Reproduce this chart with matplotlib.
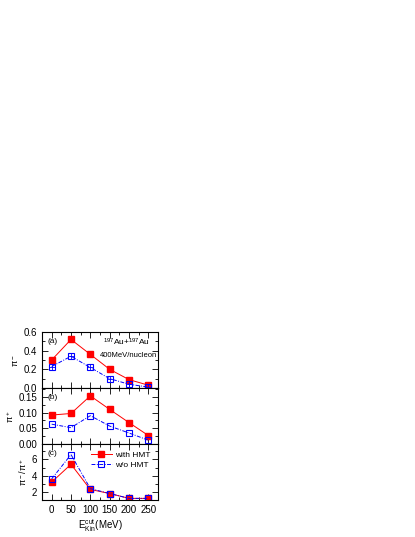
import matplotlib
matplotlib.use("Agg")
import matplotlib.pyplot as plt
from matplotlib.ticker import MultipleLocator, AutoMinorLocator

e_cut = [0, 50, 100, 150, 200, 250]

# pi- yields
pim_hmt = [0.30, 0.52, 0.36, 0.20, 0.09, 0.03]
pim_no = [0.23, 0.34, 0.22, 0.10, 0.04, 0.01]
# pi+ yields
pip_hmt = [0.092, 0.097, 0.153, 0.110, 0.068, 0.027]
pip_no = [0.063, 0.052, 0.090, 0.057, 0.035, 0.012]
# pi-/pi+ ratio
ratio_hmt = [3.2, 5.4, 2.3, 1.8, 1.2, 1.2]
ratio_no = [3.6, 6.6, 2.4, 1.8, 1.2, 1.2]

plt.rcParams["font.family"] = "Liberation Sans"
plt.rcParams["font.size"] = 7
plt.rcParams["mathtext.fontset"] = "custom"
plt.rcParams["mathtext.rm"] = "Liberation Sans"
plt.rcParams["mathtext.it"] = "Liberation Sans"

fig = plt.figure(figsize=(4.15, 5.37), dpi=100)
left, right = 42 / 415, 158 / 415
top, bottom = 1 - 332 / 537, 1 - 500 / 537
h = (top - bottom) / 3
axes = [fig.add_axes([left, top - (i + 1) * h, right - left, h]) for i in range(3)]

panels = [
    (pim_hmt, pim_no, (0, 0.6), 0.2, "$\\pi^-$", "(a)", "%.1f"),
    (pip_hmt, pip_no, (0, 0.178), 0.05, "$\\pi^+$", "(b)", "%.2f"),
    (ratio_hmt, ratio_no, (1, 7.9), 2, "$\\pi^-/\\pi^+$", "(c)", "%d"),
]

for i, (ax, (red, blue, ylim, step, ylab, tag, fmt)) in enumerate(zip(axes, panels)):
    ax.plot(e_cut, red, color="red", lw=0.7, marker="s", ms=4,
            mfc="red", mec="red", label="with HMT")
    ax.plot(e_cut, blue, color="blue", lw=0.7, ls=(0, (4, 1.5, 1, 1.5)),
            marker="s", ms=4, mfc="none", mec="blue", mew=0.8, label="w/o HMT")
    if i == 0:
        # error bars drawn inside the open squares
        ax.plot(e_cut, blue, ls="none", marker="+", ms=4, mec="blue", mew=0.6)
    ax.set_xlim(-25, 275)
    ax.set_ylim(*ylim)
    ax.yaxis.set_major_locator(MultipleLocator(step))
    ax.yaxis.set_minor_locator(AutoMinorLocator(2))
    ax.yaxis.set_major_formatter(plt.FormatStrFormatter(fmt))
    ax.xaxis.set_major_locator(MultipleLocator(50))
    ax.xaxis.set_minor_locator(AutoMinorLocator(2))
    ax.tick_params(which="both", direction="in", top=True, right=True,
                   labelsize=7, width=0.6)
    ax.tick_params(which="major", length=4)
    ax.tick_params(which="minor", length=2)
    for s in ax.spines.values():
        s.set_linewidth(0.8)
    ax.set_ylabel(ylab, fontsize=6.5, labelpad=2)
    ax.text(0.05, 0.8, tag, transform=ax.transAxes, fontsize=6)
    if i < 2:
        ax.tick_params(labelbottom=False)

axes[0].text(0.53, 0.76, "$^{197}$Au+$^{197}$Au", transform=axes[0].transAxes, fontsize=6)
axes[0].text(0.5, 0.55, "400MeV/nucleon", transform=axes[0].transAxes, fontsize=5.5)
axes[2].legend(loc="upper right", frameon=False, fontsize=6, handlelength=2.5,
               borderaxespad=0.5, labelspacing=0.2, handletextpad=0.4)
axes[2].set_xlabel("E$_{Kin}^{cut}$(MeV)", fontsize=7, labelpad=2)

fig.savefig("out.png", dpi=100)
